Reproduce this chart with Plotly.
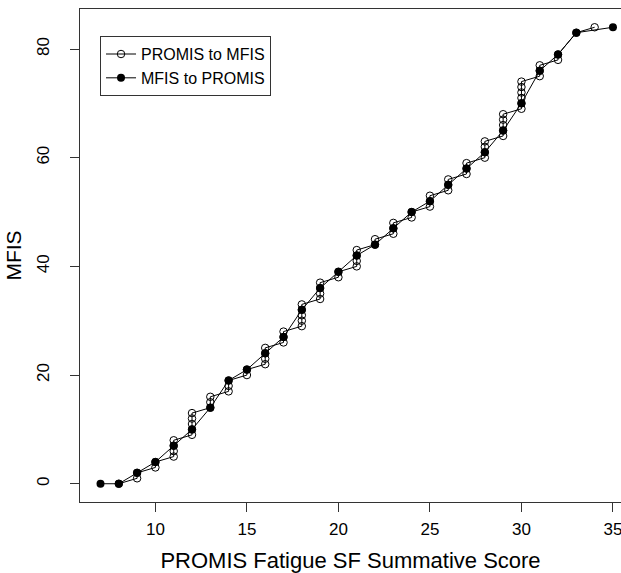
import plotly.graph_objects as go

# PROMIS to MFIS (open circles)
x_promis_to_mfis = [8, 9, 9, 10, 10, 11, 11, 11, 11, 12, 12, 12, 12, 12,
                    13, 13, 13, 14, 14, 14, 15, 15, 16, 16, 16, 16,
                    17, 17, 17, 18, 18, 18, 18, 18, 19, 19, 19, 19, 20, 20,
                    21, 21, 21, 21, 22, 22, 23, 23, 23, 24, 24, 25, 25, 25,
                    26, 26, 26, 27, 27, 27, 28, 28, 28, 28, 29, 29, 29, 29, 29,
                    30, 30, 30, 30, 30, 30, 31, 31, 31, 32, 32, 33, 34]
y_promis_to_mfis = [0, 1, 2, 3, 4, 5, 6, 7, 8, 9, 10, 11, 12, 13,
                    14, 15, 16, 17, 18, 19, 20, 21, 22, 23, 24, 25,
                    26, 27, 28, 29, 30, 31, 32, 33, 34, 35, 36, 37, 38, 39,
                    40, 41, 42, 43, 44, 45, 46, 47, 48, 49, 50, 51, 52, 53,
                    54, 55, 56, 57, 58, 59, 60, 61, 62, 63, 64, 65, 66, 67, 68,
                    69, 70, 71, 72, 73, 74, 75, 76, 77, 78, 79, 83, 84]

# MFIS to PROMIS (filled circles)
x_mfis_to_promis = [7, 8, 9, 10, 11, 12, 13, 14, 15, 16, 17, 18, 19, 20, 21,
                    22, 23, 24, 25, 26, 27, 28, 29, 30, 31, 32, 33, 35]
y_mfis_to_promis = [0, 0, 2, 4, 7, 10, 14, 19, 21, 24, 27, 32, 36, 39, 42,
                    44, 47, 50, 52, 55, 58, 61, 65, 70, 76, 79, 83, 84]

x_ticks = [10, 15, 20, 25, 30, 35]
y_ticks = [0, 20, 40, 60, 80]

FONT = "Liberation Sans, Arial, sans-serif"
AX = "#333333"

fig = go.Figure()
fig.add_trace(go.Scatter(
    x=x_promis_to_mfis, y=y_promis_to_mfis, mode="lines+markers",
    name="PROMIS to MFIS",
    line=dict(color="black", width=1),
    marker=dict(symbol="circle-open", size=7.5, color="black", line=dict(width=1)),
))
fig.add_trace(go.Scatter(
    x=x_mfis_to_promis, y=y_mfis_to_promis, mode="lines+markers",
    name="MFIS to PROMIS",
    line=dict(color="black", width=1),
    marker=dict(symbol="circle", size=8, color="black"),
))

fig.update_layout(
    width=621, height=573,
    margin=dict(l=80, r=0, t=9, b=71),
    paper_bgcolor="white", plot_bgcolor="white",
    font=dict(family=FONT, size=16, color="black"),
    showlegend=True,
    legend=dict(
        x=0.037, y=0.945, xanchor="left", yanchor="top",
        bordercolor=AX, borderwidth=1, bgcolor="white",
        font=dict(size=16), tracegroupgap=0, itemwidth=30,
    ),
)
fig.update_xaxes(
    range=[5.88, 35.44], tickvals=x_ticks, ticktext=[str(v) for v in x_ticks],
    ticks="outside", ticklen=9, tickcolor=AX, tickwidth=1,
    showline=True, linecolor=AX, linewidth=1, mirror=True,
    showgrid=False, zeroline=False, automargin=False,
    ticklabeloverflow="allow", ticklabelstandoff=3,
    title=dict(text="PROMIS Fatigue SF Summative Score", font=dict(size=22), standoff=16),
    tickfont=dict(size=17),
)
fig.update_yaxes(
    range=[-3.36, 87.36], tickvals=y_ticks, ticktext=[str(v) for v in y_ticks],
    ticks="outside", ticklen=9, tickcolor=AX, tickwidth=1, tickangle=-90,
    showline=True, linecolor=AX, linewidth=1, mirror=False,
    showgrid=False, zeroline=False, automargin=False,
    ticklabelstandoff=14,
    title=dict(text="MFIS", font=dict(size=21), standoff=6),
    tickfont=dict(size=17),
)

fig.write_html(
    "out.html",
    config={"displayModeBar": False},
    post_script="document.body.style.margin='0';document.body.style.overflow='hidden';",
)
